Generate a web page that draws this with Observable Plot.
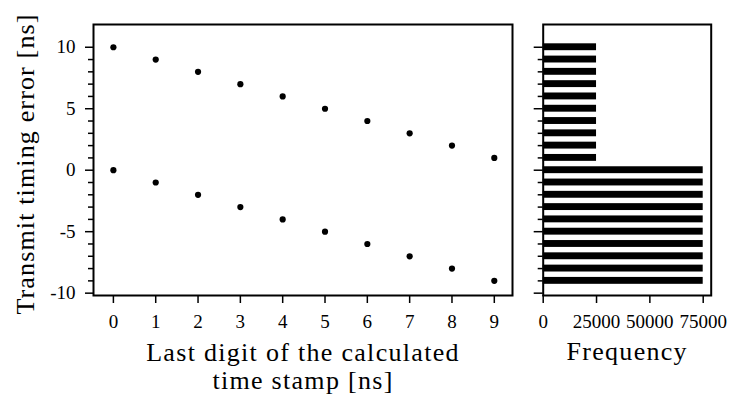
<!DOCTYPE html>
<html>
<head>
<meta charset="utf-8">
<script src="https://cdn.jsdelivr.net/npm/d3@7"></script>
<script src="https://cdn.jsdelivr.net/npm/@observablehq/plot@0.6"></script>
<style>
  html, body { margin: 0; padding: 0; background: white; }
  #wrap { position: relative; width: 729px; height: 396px; overflow: hidden; background: white; }
  #wrap svg { position: absolute; top: 0; overflow: visible; font-family: "Liberation Serif", serif; }
  #wrap svg text { font-family: "Liberation Serif", serif; }
</style>
</head>
<body>
<div id="wrap"></div>
<script>
// ---- data ----
const digits = [0, 1, 2, 3, 4, 5, 6, 7, 8, 9];
const upperErrors = [10, 9, 8, 7, 6, 5, 4, 3, 2, 1];
const lowerErrors = [0, -1, -2, -3, -4, -5, -6, -7, -8, -9];
const histBins = [10, 9, 8, 7, 6, 5, 4, 3, 2, 1, 0, -1, -2, -3, -4, -5, -6, -7, -8, -9];
const histCounts = [25000, 25000, 25000, 25000, 25000, 25000, 25000, 25000, 25000, 25000,
                    75000, 75000, 75000, 75000, 75000, 75000, 75000, 75000, 75000, 75000];
const yMajorTicks = [-10, -5, 0, 5, 10];
const yMinorTicks = [-9, -8, -7, -6, -4, -3, -2, -1, 1, 2, 3, 4, 6, 7, 8, 9];
const xTicks = [0, 1, 2, 3, 4, 5, 6, 7, 8, 9];
const freqTicks = [0, 25000, 50000, 75000];
const xLabel = "Last digit of the calculated\ntime stamp [ns]";
const yLabel = "Transmit timing error [ns]";
const freqLabel = "Frequency";

const points = digits.flatMap((d, i) => [
  {x: d, y: upperErrors[i]},
  {x: d, y: lowerErrors[i]}
]);
const hist = histBins.map((b, i) => ({bin: b, count: histCounts[i]}));

const FONT = "Liberation Serif";
const STYLE = "font-family: 'Liberation Serif', serif; background: transparent; color: black; overflow: visible;";
const yDomain = [-10.19, 11.85];
const fmt = d => (d < 0 ? "-" + Math.abs(d) : String(d));

const left = Plot.plot({
  width: 520, height: 396,
  marginLeft: 93, marginRight: 8, marginTop: 24, marginBottom: 101,
  style: STYLE,
  x: {domain: [-0.47, 9.43]},
  y: {domain: yDomain},
  marks: [
    Plot.axisY(yMinorTicks, {tickSize: 5, strokeWidth: 1.5, tickFormat: () => "", label: null}),
    Plot.axisY(yMajorTicks, {tickSize: 8, strokeWidth: 1.5, tickPadding: 10, fontSize: 19, fontFamily: FONT, tickFormat: fmt, label: null}),
    Plot.axisX(xTicks, {tickSize: 8, strokeWidth: 1.5, tickPadding: 11, fontSize: 19, fontFamily: FONT, tickFormat: fmt, label: null}),
    Plot.frame({stroke: "black", strokeWidth: 2}),
    Plot.dot(points, {x: "x", y: "y", r: 3.1, fill: "black", stroke: null}),
    Plot.text([xLabel], {frameAnchor: "bottom", lineAnchor: "top", textAnchor: "middle", dy: 46, fontSize: 26, fontFamily: FONT, lineHeight: 1.07, fill: "black"}),
    Plot.text([yLabel], {frameAnchor: "left", rotate: -90, textAnchor: "middle", lineAnchor: "bottom", dx: -60, dy: 4, fontSize: 26, fontFamily: FONT, fill: "black"})
  ]
});
left.style.left = "0px";

const right = Plot.plot({
  width: 209, height: 396,
  marginLeft: 22.7, marginRight: 18.3, marginTop: 24, marginBottom: 101,
  style: STYLE,
  x: {domain: [0, 78750]},
  y: {domain: yDomain},
  marks: [
    Plot.rectX(hist, {x1: 0, x2: "count", y1: d => d.bin - 0.28, y2: d => d.bin + 0.28, fill: "black"}),
    Plot.axisY(yMinorTicks, {tickSize: 5, strokeWidth: 1.5, tickFormat: () => "", label: null}),
    Plot.axisY(yMajorTicks, {tickSize: 9, strokeWidth: 1.5, tickFormat: () => "", label: null}),
    Plot.axisX(freqTicks, {tickSize: 8, strokeWidth: 1.5, tickPadding: 11, fontSize: 19, fontFamily: FONT, tickFormat: d => String(d), label: null}),
    Plot.frame({stroke: "black", strokeWidth: 2}),
    Plot.text([freqLabel], {frameAnchor: "bottom", lineAnchor: "top", textAnchor: "middle", dy: 46, fontSize: 26, fontFamily: FONT, fill: "black"})
  ]
});
right.style.left = "520px";

const wrap = document.getElementById("wrap");
wrap.appendChild(left);
wrap.appendChild(right);

// widen the label lettering a little to match the reference's LaTeX font metrics
d3.select(wrap).selectAll("text").each(function () {
  const t = this.textContent;
  if (t === freqLabel) this.style.letterSpacing = "1.3px";
  else if (t === yLabel) this.style.letterSpacing = "1.15px";
});
d3.select(wrap).selectAll("tspan").each(function () {
  const t = this.textContent;
  if (t.startsWith("Last digit") || t.startsWith("time stamp")) this.parentNode.style.letterSpacing = "1.3px";
});
</script>
</body>
</html>
